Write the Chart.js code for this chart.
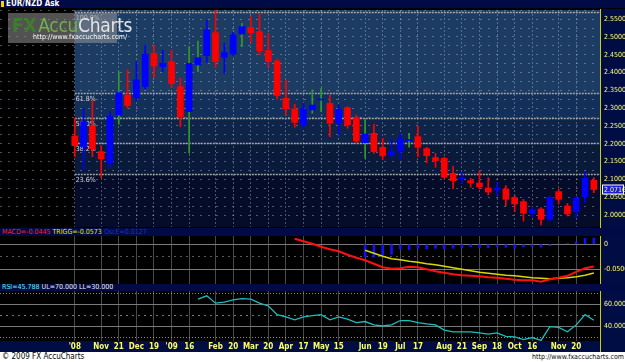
<!DOCTYPE html>
<html>
<head>
<meta charset="utf-8">
<title>EUR/NZD Ask</title>
<script src="https://cdn.jsdelivr.net/npm/chart.js@4.4.0/dist/chart.umd.min.js"></script>
<style>
  html, body { margin: 0; padding: 0; background: #000; }
  body { width: 625px; height: 362px; position: relative; overflow: hidden;
         font-family: 'Liberation Sans Narrow', 'DejaVu Sans Condensed', 'Liberation Sans', sans-serif; }
  canvas { position: absolute; left: 0; }
  .bar { position: absolute; left: 0; width: 625px; background: #000a44; white-space: nowrap; overflow: hidden; }
  #title { top: 0; height: 8px; font-size: 8px; line-height: 8px; color: #fff; font-weight: bold; }
  #title .mark { display: inline-block; width: 3px; height: 6px; background: #ffcc00; margin: 1px 2px 0 1px; vertical-align: top; }
  #macdHead { top: 228px; height: 8px; font-size: 7px; line-height: 8px; padding-left: 2px; }
  #rsiHead { top: 284px; height: 7px; font-size: 7px; line-height: 7px; padding-left: 2px; }
  #foot { position: absolute; left: 0; top: 352px; width: 625px; height: 10px; background: #fff; color: #000;
          font-size: 8px; line-height: 10px; }
  #foot .l { position: absolute; left: 2px; }
  #foot .r { position: absolute; right: 1px; font-size: 7px; }
  #wm { position: absolute; left: 8px; top: 13px; width: 109px; height: 30px; background: rgba(150,150,150,0.55); }
  #wm .logo { position: absolute; left: 4px; top: 3px; font-size: 19px; line-height: 18px; letter-spacing: -0.3px; }
  #wm .fx { color: #3f7d2c; font-weight: bold; }
  #wm .accu { color: #72b04e; margin-left: 2px; }
  #wm .charts { color: #e4e4e4; }
  #wm .url { position: absolute; left: 25px; top: 21px; font-size: 7px; line-height: 7px; color: #fff; }
</style>
</head>
<body>
<div id="title" class="bar"><span class="mark"></span>EUR/NZD Ask</div>
<canvas id="price" width="625" height="219" style="top:9px"></canvas>
<div id="wm">
  <div class="logo"><span class="fx">FX</span><span class="accu">Accu</span><span class="charts">Charts</span></div>
  <div class="url">http://www.fxaccucharts.com/</div>
</div>
<div id="macdHead" class="bar"><span style="color:#ff2020">MACD=-0.0445</span> <span style="color:#e8e800">TRIGG=-0.0573</span> <span style="color:#2a2ad0">OscE=0.0127</span></div>
<canvas id="macd" width="625" height="48" style="top:236px"></canvas>
<div id="rsiHead" class="bar"><span style="color:#5ff0f0">RSI=45.788</span> <span style="color:#f0f0f0">UL=70.000 LL=30.000</span></div>
<canvas id="rsi" width="625" height="61" style="top:291px"></canvas>
<div id="foot"><span class="l">© 2009 FX AccuCharts</span><span class="r">http://www.fxaccucharts.com</span></div>

<script>
// weekly EUR/NZD candles, Oct 2008 - Dec 2009
const opens  = [2.2219,2.1921,2.2501,2.1781,2.1453,2.2810,2.3372,2.3297,2.3606,2.4542,
                2.4167,2.4308,2.3606,2.2904,2.4214,2.4476,2.5122,2.4430,2.4523,2.5085,
                2.5272,2.5150,2.4617,2.4326,2.3278,2.2979,2.2511,2.2951,2.3230,2.3137,
                2.2594,2.3016,2.2744,2.2033,2.2295,2.1902,2.1686,2.1808,2.2090,2.2201,
                2.1864,2.1612,2.1593,2.1171,2.1021,2.0965,2.0899,2.0759,2.0703,2.0731,
                2.0487,2.0375,2.0047,2.0169,1.9879,2.0656,2.0253,2.0094,2.0515,2.0974];
const highs  = [2.2716,2.2979,2.3213,2.1949,2.2904,2.4027,2.4074,2.4308,2.4776,2.4776,
                2.4635,2.4635,2.3840,2.4729,2.4888,2.5478,2.5787,2.4823,2.5132,2.5384,
                2.5571,2.5637,2.5103,2.4383,2.3793,2.3110,2.3138,2.3512,2.3558,2.3371,
                2.3090,2.3044,2.2810,2.2669,2.2548,2.2154,2.2108,2.2295,2.2295,2.2501,
                2.1902,2.1733,2.1621,2.1377,2.1189,2.1030,2.1236,2.1049,2.0909,2.0824,
                2.0553,2.0441,2.0216,2.0207,2.0543,2.0731,2.0328,2.0515,2.1217,2.1049];
const lows   = [2.1638,2.1266,2.1640,2.1050,2.1331,2.2548,2.2997,2.3203,2.3540,2.3859,
                2.4027,2.3578,2.2483,2.1734,2.4027,2.4289,2.4139,2.3980,2.4476,2.4729,
                2.4851,2.4495,2.4167,2.3250,2.2810,2.2464,2.2436,2.2857,2.2903,2.2201,
                2.2248,2.2435,2.2014,2.1593,2.1733,2.1565,2.1621,2.1546,2.1902,2.1640,
                2.1471,2.1340,2.1031,2.0731,2.0890,2.0777,2.0731,2.0562,2.0562,2.0263,
                2.0094,1.9832,1.9954,1.9720,1.9832,2.0309,1.9973,1.9926,2.0347,2.0628];
const closes = [2.1947,2.2623,2.1855,2.1575,2.2763,2.3437,2.3072,2.3793,2.4514,2.4186,
                2.4261,2.3690,2.2763,2.4261,2.4420,2.5197,2.4308,2.4561,2.5057,2.5291,
                2.5122,2.4617,2.4308,2.3353,2.2979,2.2604,2.2979,2.3091,2.3250,2.2576,
                2.2969,2.2529,2.2080,2.2276,2.1780,2.1658,2.1771,2.2136,2.2110,2.1902,
                2.1668,2.1527,2.1059,2.0965,2.1049,2.0899,2.0787,2.0646,2.0759,2.0441,
                2.0309,2.0047,2.0141,1.9879,2.0497,2.0441,2.0029,2.0469,2.1040,2.0716];

// date axis: candle index -> label
const dateTickIdx  = [0, 3, 5, 7, 9, 11, 13, 16, 18, 20, 22, 24, 26, 28, 30, 33, 35, 37, 39, 42, 44, 46, 48, 50, 52, 55, 57];
const dateTickText = ["'08","Nov","21","Dec","19","'09","16","Feb","20","Mar","20","Apr","17","May","15",
                      "Jun","19","Jul","17","Aug","21","Sep","18","Oct","16","Nov","20"];
const priceTicks = [2.00, 2.05, 2.10, 2.15, 2.20, 2.25, 2.30, 2.35, 2.40, 2.45, 2.50, 2.55];

// fibonacci retracement
const fibHigh = 2.5704, fibLow = 1.9746;
const fibLevels = [1, 0.618, 0.5, 0.382, 0.236];
const fibLabels = ['100.0%', '61.8%', '50.0%', '38.2%', '23.6%'];

// MACD panel
const macdStart = 25;
const macd = [0.011, 0.006, 0.001, -0.005, -0.010, -0.014, -0.021, -0.027, -0.032, -0.039,
              -0.046, -0.049, -0.048, -0.045, -0.046, -0.050, -0.054, -0.057, -0.060, -0.062,
              -0.063, -0.064, -0.066, -0.067, -0.069, -0.071, -0.072, -0.072, -0.075, -0.070,
              -0.067, -0.063, -0.055, -0.048, -0.0445];
const triggStart = 33;
const trigg = [-0.012, -0.018, -0.024, -0.029, -0.031, -0.034, -0.036, -0.039, -0.041, -0.044,
               -0.047, -0.050, -0.053, -0.056, -0.058, -0.060, -0.062, -0.063, -0.065, -0.067,
               -0.068, -0.069, -0.068, -0.067, -0.065, -0.062, -0.0573];
const osc = [-0.025, -0.026, -0.021, -0.020, -0.009, -0.011, -0.008, -0.009, -0.008, -0.009,
             -0.008, -0.007, -0.005, -0.007, -0.007, -0.005, -0.006, -0.008, -0.005, -0.004,
             -0.006, -0.003, 0.001, 0.002, 0.004, 0.012, 0.0127];
const macdGrid = [-0.05, -0.025, 0];
const macdLabels = [-0.05, 0];

// RSI panel
const rsiStart = 14;
const rsi = [64.6, 67.6, 61.0, 62.0, 64.0, 65.0, 64.6, 61.0, 58.5, 50.8,
             48.7, 46.2, 48.7, 49.9, 50.8, 46.2, 48.7, 46.8, 43.7, 44.6,
             41.6, 40.6, 41.6, 45.5, 45.5, 43.7, 42.5, 41.6, 37.0, 35.4,
             35.4, 35.4, 34.5, 33.3, 34.5, 31.4, 30.8, 28.4, 30.3, 27.7,
             40.0, 39.4, 35.4, 41.6, 50.8, 45.788];
const rsiGrid = [30, 40, 50, 60, 70];
const rsiLabels = [40, 60];

// ---- styling ----
const FONT = "'Liberation Sans Narrow', 'DejaVu Sans Condensed', 'Liberation Sans', sans-serif";
const UP = '#0000ff', DOWN = '#ff0000', WICK_GREEN = '#2f9a2f';
const greenWicks = [5, 13, 14, 19, 27, 28, 33, 38];
const AXIS_BG = '#000c44', AXIS_TEXT = '#ffff66';
const fibBand = ['#1c3c64', '#13305a', '#0e2549', '#0a1a3a', '#050c2a'];
const X_MIN = -8.5, X_MAX = 59.7;

Chart.defaults.font.family = FONT;
Chart.defaults.animation = false;

const isUp = i => closes[i] >= opens[i];

const panelBg = {
  id: 'panelBg',
  beforeDraw(chart, args, o) {
    const { ctx, chartArea: a, width, height } = chart;
    ctx.save();
    ctx.fillStyle = '#000';
    ctx.fillRect(0, 0, width, height);
    ctx.fillStyle = AXIS_BG;
    ctx.fillRect(a.right, 0, width - a.right, height);
    if (o.xBar) ctx.fillRect(0, a.bottom, width, height - a.bottom);
    ctx.restore();
  },
  afterDraw(chart) {
    const { ctx, chartArea: a } = chart;
    ctx.save();
    ctx.strokeStyle = '#d0d000';
    ctx.beginPath();
    ctx.moveTo(Math.round(a.right) + 0.5, 0);
    ctx.lineTo(Math.round(a.right) + 0.5, chart.height);
    ctx.stroke();
    ctx.restore();
  }
};

const fibPlugin = {
  id: 'fib',
  beforeDraw(chart) {
    const { ctx, chartArea: a, scales: { x, y } } = chart;
    const left = x.getPixelForValue(0);
    const lv = fibLevels.map(f => y.getPixelForValue(fibLow + f * (fibHigh - fibLow)));
    const edges = [a.top, lv[1], lv[2], lv[3], lv[4], a.bottom];
    ctx.save();
    for (let k = 0; k < fibBand.length; k++) {
      ctx.fillStyle = fibBand[k];
      ctx.fillRect(left, edges[k], a.right - left, edges[k + 1] - edges[k]);
    }
    ctx.restore();
  },
  beforeDatasetsDraw(chart) {
    const { ctx, chartArea: a, scales: { x, y } } = chart;
    const left = x.getPixelForValue(0);
    ctx.save();
    ctx.font = '7px ' + FONT;
    ctx.textBaseline = 'top';
    fibLevels.forEach((f, k) => {
      const py = Math.round(y.getPixelForValue(fibLow + f * (fibHigh - fibLow))) + 0.5;
      ctx.strokeStyle = '#a8a8a8';
      ctx.lineWidth = 1.5;
      ctx.setLineDash([2, 1]);
      ctx.beginPath();
      ctx.moveTo(left, py);
      ctx.lineTo(a.right, py);
      ctx.stroke();
      ctx.fillStyle = '#d8d8d8';
      ctx.fillText(fibLabels[k], left + 1, py + 2);
    });
    ctx.restore();
  },
  afterDraw(chart) {
    // last price tag on the axis
    const { ctx, chartArea: a, scales: { y } } = chart;
    const last = closes[closes.length - 1];
    const py = y.getPixelForValue(last);
    ctx.save();
    ctx.fillStyle = '#ffffff';
    ctx.fillRect(a.right + 2, py - 5, 22, 10);
    ctx.fillStyle = '#1c1cd0';
    ctx.fillRect(a.right + 3, py - 4, 20, 8);
    ctx.fillStyle = '#ffff66';
    ctx.font = '7px ' + FONT;
    ctx.textBaseline = 'middle';
    ctx.fillText(last.toFixed(4), a.right + 4, py + 0.5);
    ctx.restore();
  }
};

function xAxis(showLabels, gridColor, dash) {
  return {
    type: 'linear',
    min: X_MIN,
    max: X_MAX,
    offset: false,
    afterBuildTicks: s => { s.ticks = dateTickIdx.map(v => ({ value: v })); },
    ticks: {
      display: showLabels, autoSkip: false, maxRotation: 0, minRotation: 0, padding: 1,
      color: AXIS_TEXT, font: { size: 8, weight: 'bold' },
      callback: (v, i) => dateTickText[i]
    },
    grid: { offset: false, color: gridColor, drawTicks: false },
    border: { display: false, dash: dash },
    afterFit: s => { s.height = showLabels ? 11 : 0; s.paddingLeft = 0; s.paddingRight = 0; }
  };
}

function rightAxis(min, max, gridVals, label, gridColor, gridDash) {
  return {
    type: 'linear',
    position: 'right',
    min: min,
    max: max,
    afterBuildTicks: s => { s.ticks = gridVals.map(v => ({ value: v })); },
    ticks: { autoSkip: false, color: AXIS_TEXT, padding: 4, font: { size: 7 }, callback: label },
    grid: { drawTicks: false, color: gridColor },
    border: { display: false, dash: gridDash },
    afterFit: s => { s.width = 25; s.paddingTop = 0; s.paddingBottom = 0; }
  };
}

const baseOptions = {
  responsive: false,
  animation: false,
  events: [],
  layout: { padding: 0 }
};

// ---- price panel ----
const priceGrid = priceTicks.flatMap(v => [v, v + 0.025]);
const candleIdx = closes.map((_, i) => i);

new Chart(document.getElementById('price'), {
  type: 'bar',
  data: {
    datasets: [
      {
        label: 'body',
        data: candleIdx.map(i => ({ x: i, y: [opens[i], closes[i]] })),
        backgroundColor: c => isUp(c.dataIndex) ? UP : DOWN,
        borderWidth: 0, barThickness: 6, minBarLength: 1, grouped: false
      },
      {
        label: 'wick',
        data: candleIdx.map(i => ({ x: i, y: [lows[i], highs[i]] })),
        backgroundColor: c => greenWicks.includes(c.dataIndex) ? WICK_GREEN : (isUp(c.dataIndex) ? UP : DOWN),
        borderWidth: 0, barThickness: 1, grouped: false
      }
    ]
  },
  options: {
    ...baseOptions,
    layout: { padding: { top: 1, bottom: 1 } },
    plugins: { legend: { display: false }, tooltip: { enabled: false }, panelBg: {} },
    scales: {
      x: xAxis(false, 'rgba(160,170,195,0.45)', [2, 2]),
      y: rightAxis(1.9663, 2.5758, priceGrid,
        (v, i) => i % 2 === 0 ? priceTicks[i / 2].toFixed(4) : '',
        'rgba(170,180,205,0.45)', [2, 6])
    }
  },
  plugins: [panelBg, fibPlugin]
});

// ---- MACD panel ----
const macdGridColor = c => (c.tick && c.tick.value === -0.025) ? 'rgba(150,150,150,0.6)' : '#7a7a7a';
const macdDash = c => (c.tick && c.tick.value === -0.025) ? [2, 4] : [];

new Chart(document.getElementById('macd'), {
  type: 'bar',
  data: {
    datasets: [
      {
        type: 'line', label: 'MACD',
        data: macd.map((v, i) => ({ x: macdStart + i, y: v })),
        borderColor: '#ff1010', borderWidth: 2, pointRadius: 0, tension: 0
      },
      {
        type: 'line', label: 'TRIGG',
        data: trigg.map((v, i) => ({ x: triggStart + i, y: v })),
        borderColor: '#d8d800', borderWidth: 1.5, pointRadius: 0, tension: 0
      },
      {
        type: 'bar', label: 'OscE',
        data: osc.map((v, i) => ({ x: triggStart + i, y: [0, v] })),
        backgroundColor: '#1010ff', borderWidth: 0, barThickness: 2, grouped: false
      }
    ]
  },
  options: {
    ...baseOptions,
    plugins: { legend: { display: false }, tooltip: { enabled: false }, panelBg: {} },
    scales: {
      x: xAxis(false, '#4a4a4a', []),
      y: rightAxis(-0.0794, 0.0166, macdGrid,
        v => macdLabels.includes(v) ? (v === 0 ? '0' : v.toFixed(4)) : '',
        macdGridColor, macdDash)
    }
  },
  plugins: [panelBg]
});

// ---- RSI panel ----
const rsiGridColor = c => {
  const v = c.tick ? c.tick.value : 0;
  return (v === 30 || v === 70) ? 'rgba(200,200,200,0.7)' : '#7a7a7a';
};
const rsiDash = c => {
  const v = c.tick ? c.tick.value : 0;
  if (v === 50) return [2, 4];
  if (v === 30 || v === 70) return [1, 2];
  return [];
};

new Chart(document.getElementById('rsi'), {
  type: 'line',
  data: {
    datasets: [{
      label: 'RSI',
      data: rsi.map((v, i) => ({ x: rsiStart + i, y: v })),
      borderColor: '#1fbcbc', borderWidth: 1.3, pointRadius: 0, tension: 0
    }]
  },
  options: {
    ...baseOptions,
    plugins: { legend: { display: false }, tooltip: { enabled: false }, panelBg: { xBar: true } },
    scales: {
      x: xAxis(true, '#4a4a4a', []),
      y: rightAxis(27.2, 71.9, rsiGrid,
        v => rsiLabels.includes(v) ? v.toFixed(4) : '',
        rsiGridColor, rsiDash)
    }
  },
  plugins: [panelBg]
});
</script>
</body>
</html>
